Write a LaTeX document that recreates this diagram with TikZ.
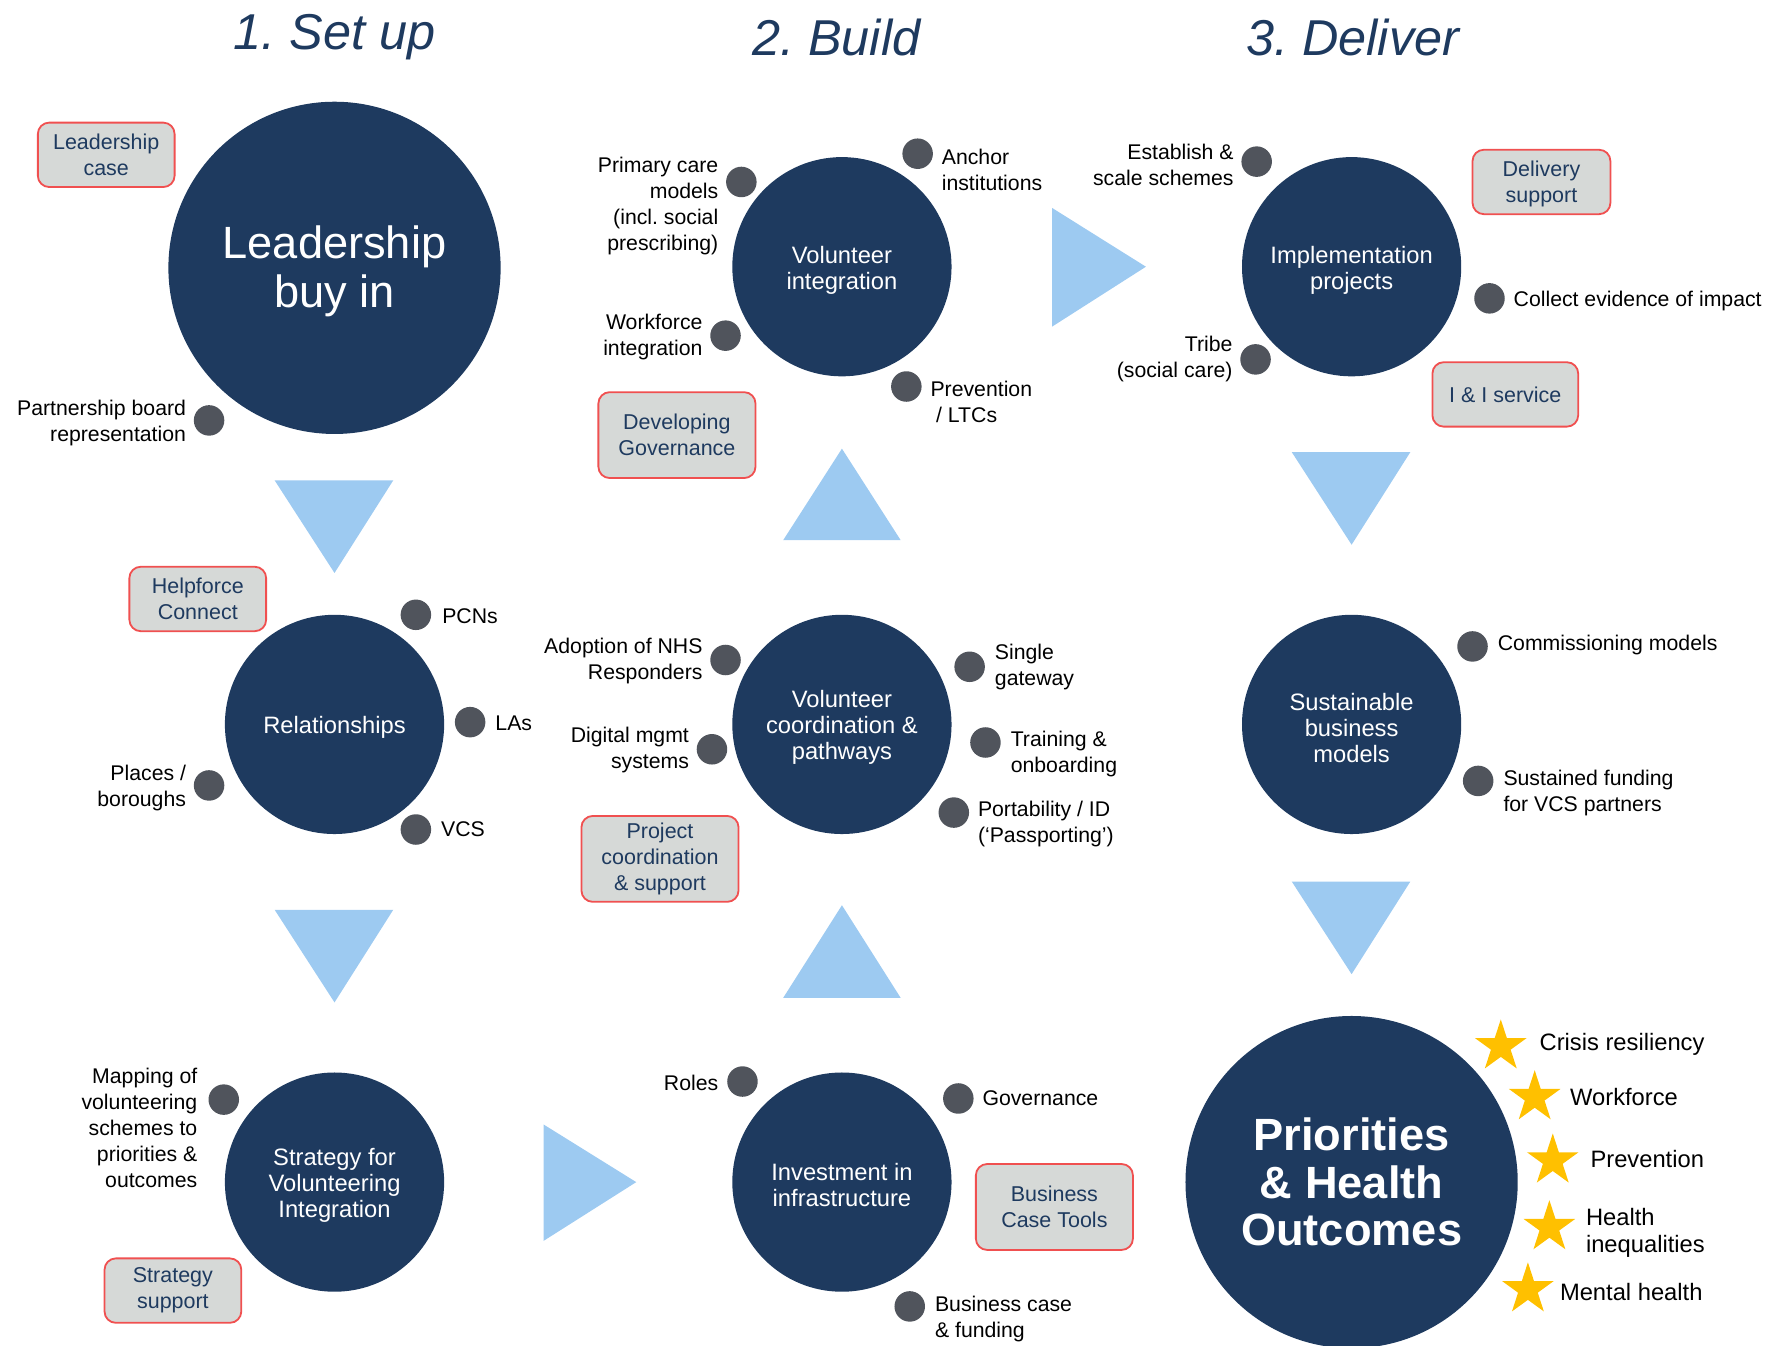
\documentclass[tikz,border=0pt]{standalone}
\usepackage{fontspec}
\setmainfont{Liberation Sans}
\usetikzlibrary{shapes.geometric}
\definecolor{navy}{RGB}{30,58,95}
\definecolor{lblue}{RGB}{157,202,241}
\definecolor{dotgray}{RGB}{80,84,92}
\definecolor{tagfill}{RGB}{214,217,215}
\definecolor{tagred}{RGB}{240,80,80}
\definecolor{gold}{RGB}{255,192,0}
\frenchspacing
\tikzset{
  title/.style={font=\fontsize{22.3}{26}\selectfont\itshape, text=navy, inner sep=0},
  bigc/.style={circle, fill=navy, minimum size=147pt, inner sep=0},
  midc/.style={circle, fill=navy, minimum size=97pt, inner sep=0},
  bigtxt/.style={text=white, inner sep=0, align=center, font=\fontsize{20}{22}\selectfont},
  midtxt/.style={text=white, inner sep=0, align=center, font=\fontsize{10.5}{11.5}\selectfont},
  dotn/.style={circle, fill=dotgray, minimum size=13.5pt, inner sep=0},
  lbl/.style={inner sep=0, font=\fontsize{9.4}{11.5}\selectfont, align=left, anchor=west, yshift=-1pt},
  rlbl/.style={inner sep=0, font=\fontsize{9.4}{11.5}\selectfont, align=right, anchor=east, yshift=-1pt},
  slbl/.style={inner sep=0, font=\fontsize{10.5}{12}\selectfont, align=left, anchor=west, yshift=-1pt},
  tag/.style={draw=tagred, fill=tagfill, line width=0.8pt, rounded corners=5pt, text=navy, align=center, inner sep=0,
              font=\fontsize{9.5}{11.5}\selectfont, minimum width=60.5pt, minimum height=28.5pt},
  tagbig/.style={tag, minimum width=69.5pt, minimum height=38pt},
  starn/.style={star, star points=5, star point ratio=2.618, fill=gold, minimum size=24pt, inner sep=0},
  arrowtri/.style={fill=lblue},
}
\begin{document}
\begin{tikzpicture}[x=0.5pt, y=-0.5pt]
\useasboundingbox (0,0) rectangle (1568,1191);

% titles
\node[title] (t1) at (296,33) {1. Set up};
\node[title] (t2) at (740,33) {2. Build};
\node[title] (t3) at (1197,33) {3. Deliver};

% arrows (triangles)
\fill[arrowtri] (243,425) -- (348,425) -- (296,507) -- cycle;
\fill[arrowtri] (243,805) -- (348,805) -- (296,887) -- cycle;
\fill[arrowtri] (481,995) -- (481,1098) -- (563,1046) -- cycle;
\fill[arrowtri] (693,883) -- (797,883) -- (745,801) -- cycle;
\fill[arrowtri] (693,478) -- (797,478) -- (745,397) -- cycle;
\fill[arrowtri] (931,184) -- (931,289) -- (1014,236) -- cycle;
\fill[arrowtri] (1143,400) -- (1248,400) -- (1196,482) -- cycle;
\fill[arrowtri] (1143,780) -- (1248,780) -- (1196,862) -- cycle;

% circles
\node[bigc] (lead) at (296,237) {};
\node[bigtxt] (leadt) at (296,240) {Leadership\\buy in};
\node[midc] (rel) at (296,641) {};
\node[midtxt] (relt) at (296,644) {Relationships};
\node[midc] (strat) at (296,1046) {};
\node[midtxt] (stratt) at (296,1049) {Strategy for\\Volunteering\\Integration};
\node[midc] (volint) at (745,236) {};
\node[midtxt] (volintt) at (745,239) {Volunteer\\integration};
\node[midc] (coord) at (745,641) {};
\node[midtxt] (coordt) at (745,644) {Volunteer\\coordination \&\\pathways};
\node[midc] (invest) at (745,1046) {};
\node[midtxt] (investt) at (745,1049) {Investment in\\infrastructure};
\node[midc] (impl) at (1196,236) {};
\node[midtxt] (implt) at (1196,239) {Implementation\\projects};
\node[midc] (sust) at (1196,641) {};
\node[midtxt] (sustt) at (1196,644) {Sustainable\\business\\models};
\node[bigc] (prio) at (1196,1046) {};
\node[bigtxt, font=\fontsize{20}{21}\selectfont\bfseries] (priot) at (1196,1046) {Priorities\\\& Health\\Outcomes};

% tags
\node[tag] (g1) at (94,137) {Leadership\\case};
\node[tag] (g2) at (175,530) {Helpforce\\Connect};
\node[tag] (g3) at (153,1142) {Strategy\\support};
\node[tagbig] (g4) at (599,385) {Developing\\Governance};
\node[tagbig] (g5) at (584,760) {Project\\coordination\\\& support};
\node[tagbig] (g6) at (933,1068) {Business\\Case Tools};
\node[tag, minimum width=61pt] (g7) at (1364,161) {\rule{0pt}{9pt}Delivery\\support};
\node[tag, minimum width=64.5pt] (g8) at (1332,349) {I \& I service};

% dots - set up
\node[dotn] (d1) at (185,372) {};
\node[rlbl] (l1) at (165,372) {Partnership board\\representation};
\node[dotn] (d2) at (368,544) {};
\node[lbl] (l2) at (391,543) {PCNs};
\node[dotn] (d3) at (416,639) {};
\node[lbl] (l3) at (438,638) {LAs};
\node[dotn] (d4) at (368,734) {};
\node[lbl] (l4) at (390,732) {VCS};
\node[dotn] (d5) at (185,695) {};
\node[rlbl] (l5) at (165,695) {Places /\\boroughs};
\node[dotn] (d6) at (198,973) {};
\node[rlbl] (l6) at (175,996) {Mapping of\\volunteering\\schemes to\\priorities \&\\outcomes};

% dots - build
\node[dotn] (d7) at (656,161) {};
\node[rlbl] (l7) at (636,180) {Primary care\\models\\(incl. social\\prescribing)};
\node[dotn] (d8) at (812,136) {};
\node[lbl] (l8) at (833,148) {Anchor\\institutions};
\node[dotn] (d9) at (642,297) {};
\node[rlbl] (l9) at (622,296) {Workforce\\integration};
\node[dotn] (d10) at (802,342) {};
\node[lbl] (l10) at (823,354) {Prevention\\\hspace*{2.5pt}/ LTCs};
\node[dotn] (d11) at (642,584) {};
\node[rlbl] (l11) at (622,583) {Adoption of NHS\\Responders};
\node[dotn] (d12) at (630,663) {};
\node[rlbl] (l12) at (610,662) {Digital mgmt\\systems};
\node[dotn] (d13) at (858,590) {};
\node[lbl] (l13) at (880,588) {Single\\gateway};
\node[dotn] (d14) at (872,657) {};
\node[lbl] (l14) at (894,665) {Training \&\\onboarding};
\node[dotn] (d15) at (844,719) {};
\node[lbl] (l15) at (865,727) {Portability / ID\\(‘Passporting’)};
\node[dotn] (d16) at (657,957) {};
\node[rlbl] (l16) at (636,956) {Roles};
\node[dotn] (d17) at (848,972) {};
\node[lbl] (l17) at (869,970) {Governance};
\node[dotn] (d18) at (805,1156) {};
\node[lbl] (l18) at (827,1165) {Business case\\\& funding};

% dots - deliver
\node[dotn] (d19) at (1112,143) {};
\node[rlbl] (l19) at (1092,144) {Establish \&\\scale schemes};
\node[dotn] (d20) at (1111,318) {};
\node[rlbl] (l20) at (1091,316) {Tribe\\(social care)};
\node[dotn] (d21) at (1318,264) {};
\node[lbl] (l21) at (1339,264) {Collect evidence of impact};
\node[dotn] (d22) at (1303,572) {};
\node[lbl] (l22) at (1325,569) {Commissioning models};
\node[dotn] (d23) at (1308,691) {};
\node[lbl] (l23) at (1330,700) {Sustained funding\\for VCS partners};

% stars
\node[starn] (s1) at (1328,926) {};
\node[slbl] (sl1) at (1362,922) {Crisis resiliency};
\node[starn] (s2) at (1358,971) {};
\node[slbl] (sl2) at (1389,969) {Workforce};
\node[starn] (s3) at (1374,1027) {};
\node[slbl] (sl3) at (1407,1024) {Prevention};
\node[starn] (s4) at (1371,1086) {};
\node[slbl] (sl4) at (1403,1089) {Health\\inequalities};
\node[starn] (s5) at (1352,1141) {};
\node[slbl] (sl5) at (1380,1141) {Mental health};
\end{tikzpicture}
\end{document}
